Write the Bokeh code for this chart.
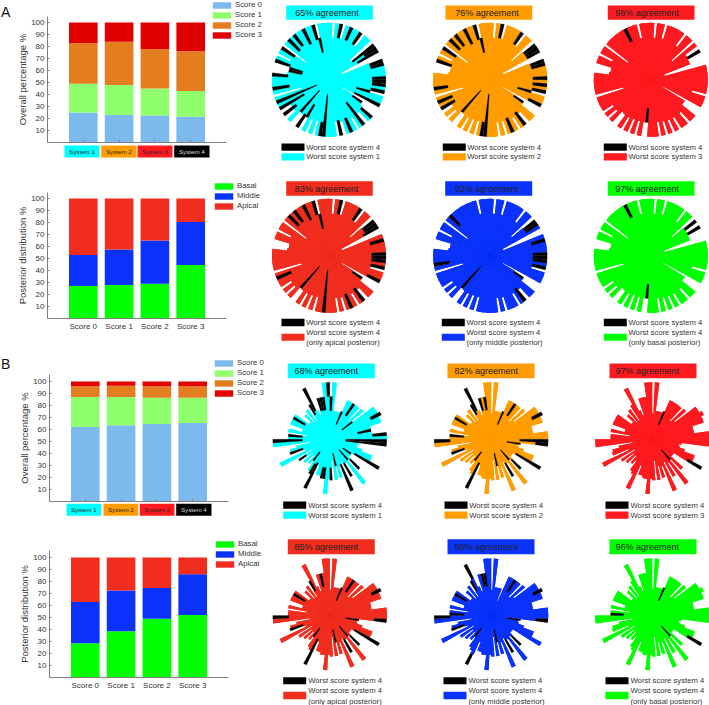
import numpy as np
from bokeh.core.properties import value
from bokeh.embed import file_html
from bokeh.layouts import column, row
from bokeh.models import ColumnDataSource, Legend, LegendItem
from bokeh.plotting import figure
from bokeh.resources import INLINE

# ---------- stacked bars ----------
systems = ["System 1", "System 2", "System 3", "System 4"]
scores = ["Score 0", "Score 1", "Score 2", "Score 3"]
regions = ["Basal", "Middle", "Apical"]
a_score0 = [25, 23, 22.5, 21.5]
a_score1 = [24, 25, 22.5, 21.5]
a_score2 = [34, 36, 33, 33]
a_score3 = [17, 16, 22, 24]
a_basal = [27, 28, 29, 44.5]
a_middle = [26, 29.5, 36, 36]
a_apical = [47, 42.5, 35, 19.5]
b_score0 = [62, 63.5, 64.5, 65.5]
b_score1 = [25, 23.5, 22, 21]
b_score2 = [9, 9.5, 9.5, 9.5]
b_score3 = [4, 3.5, 4, 4]
b_basal = [28.5, 38.5, 49, 52]
b_middle = [34.5, 34, 25.5, 34]
b_apical = [37, 27.5, 25.5, 14]
y_ticks = [10, 20, 30, 40, 50, 60, 70, 80, 90, 100]

# ---------- radial charts: one radius (percent of the rim) per sector, clockwise from the top ----------
a_system4 = [
    100, 74, 100, 100, 75, 100, 100, 100, 100, 100,
    74, 100, 100, 50, 100, 100, 100, 25, 25, 100,
    100, 100, 100, 100, 100, 100, 100, 100, 100, 75,
    100, 100, 100, 25, 70, 70, 100, 100, 77, 100,
    100, 77, 100, 100, 100, 76, 100, 75, 100, 100,
    100, 100, 100, 100, 75, 100, 75, 100, 76, 100,
    76, 75, 100, 80, 100, 80, 100, 100, 100, 100,
    50, 100, 100, 100, 100, 100, 100, 74, 72, 72,
    100, 100, 75, 100, 100, 50, 100, 100, 100, 100,
    100, 100, 100, 100, 100, 100, 75, 100, 100, 100,
]
a_system1 = {3: 75, 6: 75, 9: 75, 14: 52, 15: 75, 16: 58, 19: 76, 20: 76, 24: 76, 25: 76, 26: 76, 28: 75,
             29: 50, 32: 50, 34: 50, 36: 75, 39: 50, 43: 73, 46: 73, 51: 25, 52: 75, 58: 50, 59: 73, 61: 25,
             64: 72, 66: 50, 68: 23, 72: 70, 76: 72, 78: 48, 79: 48, 80: 72, 84: 72, 87: 72, 89: 75, 92: 70,
             95: 73, 96: 49}
a_system2 = {3: 75, 9: 75, 14: 75, 15: 75, 16: 75, 19: 75, 20: 75, 24: 75, 26: 75, 28: 75, 29: 50, 32: 75,
             34: 50, 39: 72, 43: 73, 51: 25, 52: 75, 61: 25, 66: 72, 68: 72, 72: 75, 80: 72, 84: 72, 87: 75,
             89: 75, 92: 70, 95: 73, 96: 49}
a_system3 = {15: 75, 16: 75, 17: 74, 18: 74, 19: 25, 20: 25, 43: 77, 51: 50, 52: 75, 92: 75}
a_system3_black = {15: 75, 19: 25, 20: 25, 43: 77, 51: 75, 52: 75}
a_only_apical = {3: 75, 9: 75, 14: 75, 15: 75, 16: 70, 20: 75, 24: 75, 25: 75, 26: 75, 28: 75, 32: 75, 34: 50,
                 39: 72, 43: 73, 51: 25, 61: 25, 68: 72, 87: 75, 89: 75, 92: 70, 95: 75, 96: 49}
a_only_middle = {14: 75, 15: 75, 20: 75, 24: 75, 25: 75, 26: 75, 28: 75, 34: 50, 39: 72, 61: 25, 72: 72, 87: 75}
a_only_basal = {14: 75, 15: 75, 16: 75, 17: 74, 18: 74, 19: 25, 20: 25, 43: 77, 51: 50, 52: 75, 92: 75}
a_only_basal_black = {15: 75, 19: 25, 20: 25, 43: 77, 51: 75, 52: 75}

b_system4 = [
    45, 100, 50, 50, 50, 50, 53, 75, 75, 75,
    75, 75, 45, 77, 50, 95, 95, 100, 95, 95,
    74, 74, 74, 100, 100, 100, 100, 52, 48, 50,
    60, 80, 80, 100, 45, 45, 45, 73, 48, 98,
    50, 75, 45, 98, 50, 70, 48, 72, 38, 72,
    69, 96, 70, 70, 66, 66, 50, 96, 70, 66,
    47, 55, 40, 60, 40, 65, 35, 97, 45, 74,
    72, 60, 35, 100, 100, 73, 73, 40, 74, 50,
    50, 74, 74, 74, 74, 45, 45, 60, 40, 65,
    40, 70, 100, 55, 45, 75, 75, 75, 100, 100,
]
b_system1 = {0: 50, 6: 28, 9: 50, 14: 27, 17: 80, 21: 50, 23: 75, 25: 28, 26: 28, 33: 50, 34: 28, 37: 50, 38: 25,
             41: 48, 43: 48, 46: 25, 49: 50, 52: 50, 53: 50, 57: 46, 58: 50, 60: 28, 65: 50, 69: 50, 74: 48,
             76: 48, 83: 50, 91: 50, 92: 56, 95: 52, 96: 52, 97: 52, 99: 75}
b_system1_black = {0: 75}
b_system2 = {6: 28, 9: 50, 17: 80, 25: 50, 26: 78, 27: 28, 33: 50, 37: 50, 38: 25, 41: 48, 46: 25, 57: 46, 60: 28,
             69: 50, 74: 72, 76: 48, 83: 50, 91: 50, 92: 56, 95: 52, 97: 52}
b_system3 = {6: 28, 33: 71, 38: 25}
b_only_apical = {6: 28, 9: 50, 17: 82, 26: 78, 27: 28, 33: 50, 37: 50, 38: 25, 41: 48, 46: 25, 57: 46, 60: 28,
                 69: 50, 74: 72, 83: 50, 91: 50, 96: 52}
b_only_middle = {6: 28, 9: 50, 17: 82, 26: 78, 27: 28, 37: 50, 41: 48, 46: 25, 57: 75, 60: 28, 69: 50, 74: 72,
                 75: 48, 83: 50, 91: 50, 92: 72, 96: 52, 97: 52}
b_only_middle_black = {6: 28}
b_only_basal = {6: 28, 33: 71, 38: 25, 75: 50}

# ---------- styles / layout ----------
FONT = "Liberation Sans"
TXT = "#333333"
AXC = "#7f7f7f"
CYAN, ORANGE, RED, APICAL, BLUE, GREEN = "#00FFFF", "#FF9C00", "#FF1A1F", "#F02D1E", "#0A32FA", "#00FF00"
SCORE_COL = ["#7CB9EC", "#90FF6E", "#E37D20", "#E00000"]
REGION_COL = [GREEN, BLUE, APICAL]
SYSTEM_BOX = [CYAN, ORANGE, RED, "#000000"]
SYSTEM_TXT = ["#222222", "#222222", "#222222", "#DDDDDD"]

COL_LEFT = [0, 268, 408, 569]
COL_W = [268, 140, 161, 140]
ROW_TOP = [0, 178, 350, 533]
ROW_H = [178, 172, 183, 172]
RIM = 57.0
PX_X = 35.8   # pixels per bar slot
PX_Y = 1.2    # pixels per percent
SEAM = np.radians(0.9)  # each sector overlaps its neighbour so that no seam shows


def bar_fig(r, axis_left, frame_top, frame_bottom, ylab, series, names, colors, legend_xy, xlabels=None,
            boxes=None, letter=None):
    top, h = ROW_TOP[r], ROW_H[r]
    w = COL_W[0]
    p = figure(width=w, height=h, title=None,
               x_range=(-axis_left / PX_X, (w - axis_left) / PX_X),
               y_range=((frame_bottom - top - h) / PX_Y, (frame_bottom - top) / PX_Y),
               output_backend="svg", toolbar_location=None, min_border=0,
               background_fill_color=None, border_fill_color=None, outline_line_color=None)
    p.grid.visible = False
    src = {"x": [1, 2, 3, 4]}
    for n, s in zip(names, series):
        src[n] = s
    rs = p.vbar_stack(names, x="x", width=0.8, source=ColumnDataSource(src), color=colors, line_width=0)
    ax = p.yaxis[0]
    ax.fixed_location = 0
    ax.bounds = (0, (frame_bottom - frame_top) / PX_Y)
    ax.ticker = y_ticks
    ax.axis_label = ylab
    ax.axis_label_text_font = FONT
    ax.axis_label_text_font_style = "normal"
    ax.axis_label_text_font_size = "9.5px"
    ax.axis_label_text_color = TXT
    ax.axis_label_standoff = 0
    xa = p.xaxis[0]
    xa.fixed_location = 0
    xa.bounds = (0, 5)
    xa.ticker = [1, 2, 3, 4]
    if xlabels:
        xa.major_label_overrides = {i + 1: t for i, t in enumerate(xlabels)}
    for a in (ax, xa):
        a.axis_line_color = AXC
        a.major_tick_line_color = AXC
        a.major_tick_in = 2
        a.major_tick_out = 0
        a.minor_tick_line_color = None
        a.major_label_text_font = FONT
        a.major_label_text_font_size = "8px"
        a.major_label_text_color = TXT if a is ax or xlabels else None
        a.major_label_standoff = 3
    leg = Legend(items=[LegendItem(label=n, renderers=[q]) for n, q in zip(names, rs)], location=legend_xy,
                 padding=0, margin=0, spacing=1, glyph_width=23, glyph_height=8, label_standoff=2,
                 label_height=8, label_text_font=FONT, label_text_font_size="7.8px", label_text_color=TXT,
                 border_line_color=None, background_fill_alpha=0)
    p.add_layout(leg, "center")
    dx = lambda px: (px - axis_left) / PX_X
    dy = lambda py: (frame_bottom - py) / PX_Y
    if boxes:
        for (x0, x1), nm, c, tc in zip(boxes[0], systems, SYSTEM_BOX, SYSTEM_TXT):
            p.quad(left=[dx(x0)], right=[dx(x1)], bottom=[dy(boxes[2])], top=[dy(boxes[1])], color=c, line_width=0)
            p.text(x=[dx((x0 + x1) / 2)], y=[dy((boxes[1] + boxes[2]) / 2)], text=[nm], text_font=value(FONT),
                   text_font_size="6.2px", text_color=tc, text_align="center", text_baseline="middle")
    if letter:
        p.text(x=[dx(0.5)], y=[dy(letter[1])], text=[letter[0]], text_font=value(FONT), text_font_size="14px",
               text_color="#111111", text_align="left", text_baseline="alphabetic")
    return p


def radial_fig(r, c, cx, cy, hdr_y, hdr_x, hdr_tx, hdr_text, color, black, values, leg_x, leg_tx, bl_y, cl_y, texts,
               text_y, black_over=None):
    left, top, w, h = COL_LEFT[c], ROW_TOP[r], COL_W[c], ROW_H[r]
    X = lambda px: px - left
    Y = lambda py: h - (py - top)
    p = figure(width=w, height=h, title=None, x_range=(0, w), y_range=(0, h), output_backend="svg",
               toolbar_location=None, x_axis_location=None, y_axis_location=None, min_border=0,
               background_fill_color=None, border_fill_color=None, outline_line_color=None)
    p.grid.visible = False
    colour_vals = [values.get(i, v) for i, v in enumerate(black)]
    black_vals = [(black_over or {}).get(i, v) for i, v in enumerate(black)]
    n = len(black)
    th0 = np.radians(90 - 360 * (np.arange(n) + 1) / n)
    th1 = np.radians(90 - 360 * np.arange(n) / n)
    k = RIM / 100
    src = ColumnDataSource(dict(x=[X(cx)] * n, y=[Y(cy)] * n, r=[v * k for v in colour_vals], s=th0, e=th1 + SEAM))
    # painted twice, and over a solid core, so that the joins between sectors do not show
    p.circle(x=[X(cx)], y=[Y(cy)], radius=[min(colour_vals) * k], fill_color=color, line_color=None)
    for _ in range(2):
        p.wedge(x="x", y="y", radius="r", start_angle="s", end_angle="e", source=src, fill_color=color,
                line_color=None)
    show = [i for i in range(n) if black_vals[i] > colour_vals[i]]
    src2 = ColumnDataSource(dict(x=[X(cx)] * len(show), y=[Y(cy)] * len(show),
                                 ri=[colour_vals[i] * k for i in show], ro=[black_vals[i] * k for i in show],
                                 s=th0[show], e=th1[show]))
    p.annular_wedge(x="x", y="y", inner_radius="ri", outer_radius="ro", start_angle="s", end_angle="e", source=src2,
                    fill_color="#000000", line_color="#000000", line_width=0.2)
    p.quad(left=[X(hdr_x[0])], right=[X(hdr_x[1])], bottom=[Y(hdr_y[1])], top=[Y(hdr_y[0])], color=color, line_width=0)
    p.text(x=[X(hdr_tx)], y=[Y(sum(hdr_y) / 2)], text=[hdr_text], text_font=value(FONT), text_font_size="9px",
           text_color="#222222", text_align="left", text_baseline="middle")
    p.quad(left=[X(leg_x)], right=[X(leg_x + 23)], bottom=[Y(bl_y[1])], top=[Y(bl_y[0])], color="#000000", line_width=0)
    p.quad(left=[X(leg_x)], right=[X(leg_x + 23)], bottom=[Y(cl_y[1])], top=[Y(cl_y[0])], color=color, line_width=0)
    p.text(x=[X(leg_tx)] * len(texts), y=[Y(t) for t in text_y], text=texts, text_font=value(FONT),
           text_font_size="7.7px", text_color=TXT, text_align="left", text_baseline="middle")
    return p


W4 = "Worst score system 4"
bar_a1 = bar_fig(0, 47, 16, 142, "Overall percentage %", [a_score0, a_score1, a_score2, a_score3], scores, SCORE_COL,
                 (210, 139), boxes=([(64, 99), (100.7, 136), (137, 172), (173.7, 209)], 145, 157),
                 letter=("A", 11.5))
bar_a2 = bar_fig(1, 47, 192, 318, "Posterior distribution %", [a_basal, a_middle, a_apical], regions, REGION_COL,
                 (212, 140), xlabels=scores)
bar_b1 = bar_fig(2, 49, 374, 501, "Overall percentage %", [b_score0, b_score1, b_score2, b_score3], scores,
                 SCORE_COL, (212, 136), boxes=([(66, 100.7), (103, 137.7), (139.3, 174), (175.7, 211)], 503.3, 515.3),
                 letter=("B", 363.5))
bar_b2 = bar_fig(3, 49, 550, 677, "Posterior distribution %", [b_basal, b_middle, b_apical], regions, REGION_COL,
                 (213, 137), xlabels=scores)

ra1 = [
    radial_fig(0, 1, 328.4, 79.3, (5, 19.3), (285.7, 372.3), 294.7, "65% agreement", CYAN, a_system4, a_system1,
               281, 305.7, (143, 150.3), (152.7, 160), [W4, "Worst score system 1"], [146.7, 156]),
    radial_fig(0, 2, 489.7, 79.3, (5, 19.3), (445, 531.7), 454.7, "76% agreement", ORANGE, a_system4, a_system2,
               442.3, 466.7, (143, 150.3), (152.7, 160), [W4, "Worst score system 2"], [146.7, 156]),
    radial_fig(0, 3, 650.3, 79.3, (5, 19.3), (607.3, 694), 614.7, "98% agreement", RED, a_system4, a_system3,
               603.3, 628, (143, 150.3), (152.7, 160), [W4, "Worst score system 3"], [146.7, 156],
               black_over=a_system3_black),
]
ra2 = [
    radial_fig(1, 1, 328.5, 255.3, (180.7, 195.3), (285.7, 372.3), 294.3, "83% agreement", APICAL, a_system4,
               a_only_apical, 281, 305.7, (318.3, 325.7), (333.3, 340.3), [W4, W4, "(only apical posterior)"],
               [322.3, 332, 342.3]),
    radial_fig(1, 2, 489.7, 255.3, (180.7, 195.3), (444.7, 531.7), 454.3, "92% agreement", BLUE, a_system4,
               a_only_middle, 441.3, 466, (318.3, 325.7), (333.3, 340.3), [W4, W4, "(only middle posterior)"],
               [322.3, 332, 342.3]),
    radial_fig(1, 3, 650.3, 255.3, (180.7, 195.3), (607.3, 694), 614.7, "97% agreement", GREEN, a_system4,
               a_only_basal, 603.3, 628, (318.3, 325.7), (333.3, 340.3), [W4, W4, "(only basal posterior)"],
               [322.3, 332, 342.3], black_over=a_only_basal_black),
]
rb1 = [
    radial_fig(2, 1, 329.3, 438.8, (363, 377.7), (287.3, 374.3), 294, "68% agreement", CYAN, b_system4, b_system1,
               282.7, 307.7, (501, 508.3), (511, 518.3), [W4, "Worst score system 1"], [505, 515],
               black_over=b_system1_black),
    radial_fig(2, 2, 490.7, 438.8, (363, 377.7), (447, 534), 454, "82% agreement", ORANGE, b_system4, b_system2,
               444, 468.7, (501, 508.3), (511, 518.3), [W4, "Worst score system 2"], [505, 515]),
    radial_fig(2, 3, 651.7, 438.8, (363, 377.7), (609, 696), 615, "97% agreement", RED, b_system4, b_system3,
               605, 630, (501, 508.3), (511, 518.3), [W4, "Worst score system 3"], [505, 515]),
]
rb2 = [
    radial_fig(3, 1, 329.3, 615, (538.7, 553.7), (287.3, 374.3), 294, "85% agreement", APICAL, b_system4,
               b_only_apical, 282.7, 307.7, (676.7, 683.7), (691.3, 698.7), [W4, W4, "(only apical posterior)"],
               [680.3, 690.3, 700.7]),
    radial_fig(3, 2, 490.7, 615, (538.7, 553.7), (447, 534), 454, "86% agreement", BLUE, b_system4, b_only_middle,
               443, 468, (676.7, 683.7), (691.3, 698.7), [W4, W4, "(only middle posterior)"], [680.3, 690.3, 700.7],
               black_over=b_only_middle_black),
    radial_fig(3, 3, 651.7, 615, (538.7, 553.7), (609, 696), 615, "96% agreement", GREEN, b_system4, b_only_basal,
               605, 630, (676.7, 683.7), (691.3, 698.7), [W4, W4, "(only basal posterior)"], [680.3, 690.3, 700.7]),
]

page = column(
    row(bar_a1, *ra1, spacing=0),
    row(bar_a2, *ra2, spacing=0),
    row(bar_b1, *rb1, spacing=0),
    row(bar_b2, *rb2, spacing=0),
    spacing=0,
)
open("out.html", "w").write(file_html(page, INLINE))
